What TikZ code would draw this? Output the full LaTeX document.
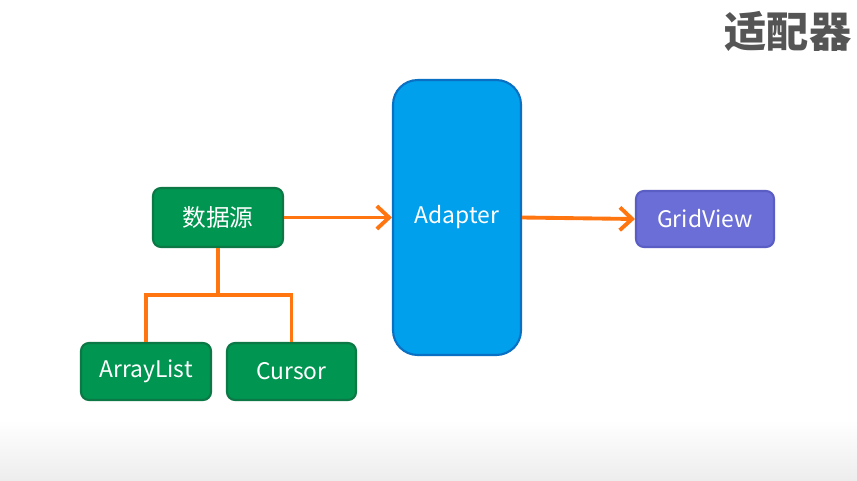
\documentclass[tikz,border=0pt]{standalone}
\usepackage{fontspec}
\setmainfont{Noto Sans CJK SC}
\usetikzlibrary{arrows.meta}
\usetikzlibrary{positioning}
\definecolor{boxgreen}{RGB}{0,149,80}
\definecolor{edgegreen}{RGB}{12,120,70}
\definecolor{boxblue}{RGB}{0,160,236}
\definecolor{edgeblue}{RGB}{10,112,196}
\definecolor{boxpurple}{RGB}{106,110,214}
\definecolor{edgepurple}{RGB}{90,94,196}
\definecolor{linkorange}{RGB}{255,117,16}
\definecolor{titlegray}{RGB}{85,85,85}
\tikzset{box/.style = {rectangle, rounded corners=4.5pt, line width=1.2pt,
                       text=white, font=\fontsize{13}{15}\selectfont,
                       inner sep=0pt}}
\tikzset{greenbox/.style = {box, fill=boxgreen, draw=edgegreen}}
\tikzset{link/.style = {draw=linkorange, line width=2.2pt}}
\tikzset{linkarrow/.style = {link, -{Straight Barb[length=7pt,width=13pt,line width=2.2pt]}}}
\begin{document}
\begin{tikzpicture}[x=0.02cm, y=-0.02cm]
		\useasboundingbox (0,0) rectangle (857,480);
		\fill[white] (0,0) rectangle (857,420);
		\shade[top color=white, bottom color=black!7] (0,420) rectangle (857,480);
		\node[text=titlegray, font=\fontsize{24}{27}\selectfont\bfseries] (title) at (788, 31) {适配器};
		\node[greenbox, font=\fontsize{13.5}{15}\selectfont,
		      minimum width=2.6cm, minimum height=1.18cm] (src) at (218, 217.5) {数据源};
		\node[box, fill=boxblue, draw=edgeblue, rounded corners=14pt,
		      minimum width=2.56cm, minimum height=5.5cm] (adapter) at (457, 217.5) {Adapter};
		\node[box, fill=boxpurple, draw=edgepurple,
		      minimum width=2.76cm, minimum height=1.12cm] (grid) at (705, 219) {GridView};
		\node[greenbox, minimum width=2.6cm, minimum height=1.14cm] (arraylist) at (146, 371.5) {ArrayList};
		\node[greenbox, minimum width=2.58cm, minimum height=1.14cm] (cursor) at (291.5, 371.5) {Cursor};
		\coordinate (fork) at (218, 295);
		\draw [linkarrow] (src.east) to (adapter.west |- src.east);
		\draw [linkarrow] (adapter.east |- src.east) to (grid.west);
		\draw [link] (src.south) to (fork);
		\draw [link] (fork) -| (arraylist.north);
		\draw [link] (fork) -| (cursor.north);
	\end{tikzpicture}
\end{document}
